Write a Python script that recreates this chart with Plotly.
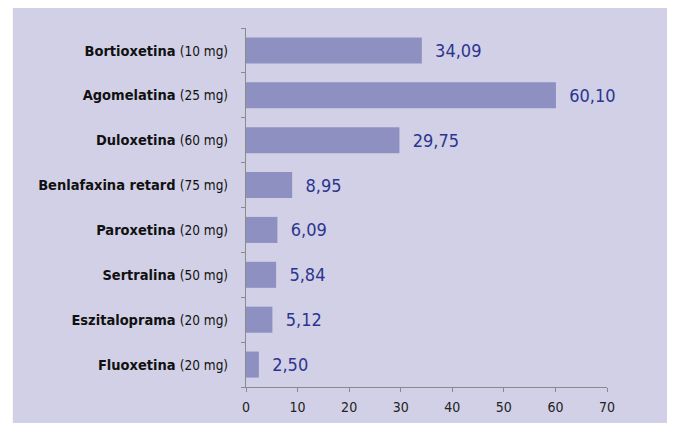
import plotly.graph_objects as go

drugs = ["Bortioxetina", "Agomelatina", "Duloxetina", "Benlafaxina retard",
         "Paroxetina", "Sertralina", "Eszitaloprama", "Fluoxetina"]
doses = ["(10 mg)", "(25 mg)", "(60 mg)", "(75 mg)", "(20 mg)", "(50 mg)", "(20 mg)", "(20 mg)"]
values = [34.09, 60.10, 29.75, 8.95, 6.09, 5.84, 5.12, 2.50]
x_ticks = [0, 10, 20, 30, 40, 50, 60, 70]

FONT = "Liberation Sans Narrow, Arial Narrow, DejaVu Sans Condensed, sans-serif"
LAV = "#d2d0e6"
BAR = "#8f90c2"
BLUE = "#2b3590"

ticktext = [f"<b>{d}</b> <span style='font-size:13.5px'>{s}</span>" for d, s in zip(drugs, doses)]

fig = go.Figure(go.Bar(
    y=drugs, x=values, orientation="h",
    marker=dict(color=BAR, line=dict(width=0)),
    width=0.58,
    text=["\u00a0\u00a0" + f"{v:.2f}".replace(".", ",") for v in values],
    textposition="outside",
    textfont=dict(family=FONT, size=18, color=BLUE),
    cliponaxis=False,
))

# page body has an 8px offset; compensate
OFF = 8
W, H = 675, 423
L, T = 245.5 - OFF, 28 - OFF
pw, ph = 607 - 245.5, 387.5 - 28
R = W - L - pw
B = H - T - ph
def px_x(p): return (p - OFF - L) / pw
def px_y(p): return (H - B - (p - OFF)) / ph

fig.add_shape(type="rect", xref="paper", yref="paper",
              x0=px_x(12), x1=px_x(673), y0=px_y(440), y1=px_y(6),
              fillcolor=LAV, line=dict(width=0), layer="below")

fig.update_layout(
    width=W, height=H,
    margin=dict(l=L, r=R, t=T, b=B),
    paper_bgcolor="white", plot_bgcolor="rgba(0,0,0,0)",
    showlegend=False,
    font=dict(family=FONT, color="#1a1a1a"),
    xaxis=dict(range=[0, 70], tickvals=x_ticks, showgrid=False, zeroline=False,
               showline=True, linecolor="#8a8a8a", linewidth=1,
               ticks="outside", ticklen=4, tickcolor="#8a8a8a",
               ticklabelstandoff=3,
               tickfont=dict(family=FONT, size=14, color="#222")),
    yaxis=dict(autorange="reversed", tickmode="array", tickvals=drugs, ticktext=ticktext,
               showgrid=False, zeroline=False, showline=True, linecolor="#8a8a8a", linewidth=1,
               ticks="outside", ticklen=4, tickcolor="#8a8a8a", tickson="boundaries",
               ticklabelstandoff=14,
               tickfont=dict(family=FONT, size=14.5, color="#111")),
)

fig.write_html("out.html")
